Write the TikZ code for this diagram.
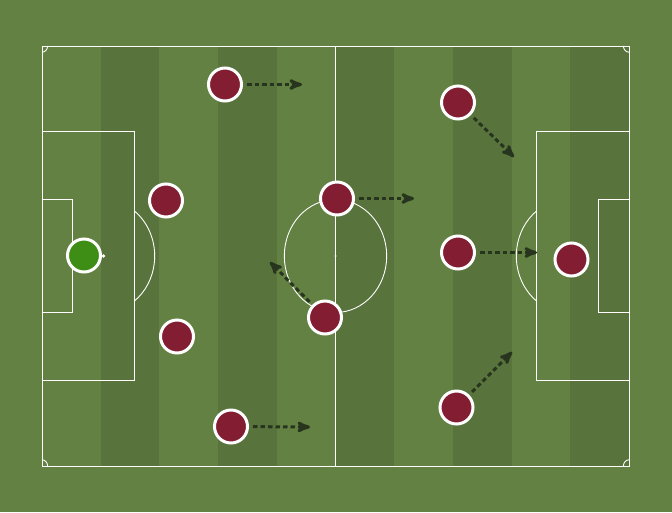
\documentclass[tikz,border=0pt]{standalone}
\usepackage{tikz}
\usetikzlibrary{arrows,shadows}
\definecolor{grass}{RGB}{99,129,66}
\definecolor{stripe}{RGB}{89,115,61}
\definecolor{shirt}{RGB}{131,30,50}
\definecolor{keeper}{RGB}{62,141,20}
\definecolor{runc}{RGB}{40,53,30}
\tikzstyle{every picture}=[x=1pt, y=-1pt, >=stealth']
\tikzstyle{line}=[draw=white, line width=0.9pt]
\tikzstyle{player}=[circle, draw=white, line width=3pt, fill=shirt, minimum size=33pt,%
	inner sep=0pt, drop shadow={opacity=0.25, shadow xshift=0pt, shadow yshift=-1pt}]
\tikzstyle{run}=[->, draw=runc, line width=3pt, dash pattern=on 4.5pt off 3pt, shorten <=4pt]

\begin{document}
\begin{tikzpicture}
\fill[grass] (0,0) rectangle (672,512);
\useasboundingbox (0,0) rectangle (672,512);
% stripes
\foreach \i in {1,3,5,7,9}
	\fill[stripe] (42+\i*58.7,46) rectangle (42+\i*58.7+58.7,466);
% pitch lines
\draw[line] (42,46) rectangle (629,466);
\draw[line] (335.5,46) -- (335.5,466);
\draw[line] (335.5,256) ellipse [x radius=51.2, y radius=56.5];
\fill[white] (335.5,256) circle [radius=1.2pt];
\draw[line] (42,131.5) rectangle (134.2,380.5);
\draw[line] (536.8,131.5) rectangle (629,380.5);
\draw[line] (42,199.4) rectangle (72.7,312.6);
\draw[line] (598.3,199.4) rectangle (629,312.6);
\fill[white] (103.5,256) circle [radius=1.8pt];
\fill[white] (567.5,256) circle [radius=1.8pt];
\draw[line] (103.5,256) ++(-53.2:51.2 and 56.5) arc [start angle=-53.2, end angle=53.2, x radius=51.2, y radius=56.5];
\draw[line] (567.5,256) ++(126.8:51.2 and 56.5) arc [start angle=126.8, end angle=233.2, x radius=51.2, y radius=56.5];
% corners
\draw[line] (47.6,46) arc [start angle=0, end angle=90, x radius=5.6, y radius=6.2];
\draw[line] (42,459.8) arc [start angle=270, end angle=360, x radius=5.6, y radius=6.2];
\draw[line] (623.4,46) arc [start angle=180, end angle=90, x radius=5.6, y radius=6.2];
\draw[line] (629,459.8) arc [start angle=270, end angle=180, x radius=5.6, y radius=6.2];
% players
\node[player, fill=keeper] (p0) at (84,255.5) {};
\node[player] (p1) at (166,200.5) {};
\node[player] (p2) at (177,336.5) {};
\node[player] (p3) at (225,84.5) {};
\node[player] (p4) at (231,426.5) {};
\node[player] (p5) at (337,198.5) {};
\node[player] (p6) at (325,317.5) {};
\node[player] (p7) at (458,102.5) {};
\node[player] (p8) at (458,252.5) {};
\node[player] (p9) at (456.5,407.5) {};
\node[player] (p10) at (571.5,259.5) {};
% runs
\coordinate (t3) at (302,84.5);
\coordinate (t4) at (310,427);
\coordinate (t5) at (414,198.5);
\coordinate (t6) at (270,262);
\coordinate (t7) at (514,157);
\coordinate (t8) at (537,252.5);
\coordinate (t9) at (512,352);
\foreach \p in {3,...,9}
	\draw[run] (p\p) -- (t\p);
\end{tikzpicture}
\end{document}
